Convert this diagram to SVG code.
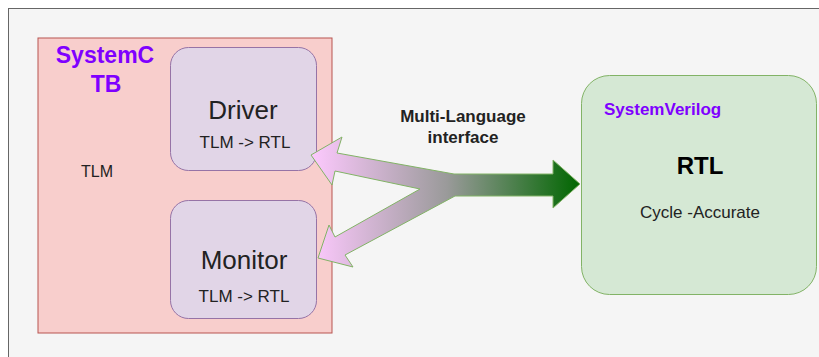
<svg xmlns="http://www.w3.org/2000/svg" width="819" height="357" viewBox="0 0 819 357">
  <defs>
    <linearGradient id="busFill" gradientUnits="userSpaceOnUse" x1="314" y1="0" x2="580" y2="0">
      <stop offset="0" stop-color="#fbc8fc"/>
      <stop offset="0.5" stop-color="#9a9a9a"/>
      <stop offset="1" stop-color="#006600"/>
    </linearGradient>
    <style>
      text { font-family: "Liberation Sans", Arial, sans-serif; text-anchor: middle; }
      .title { font-weight: bold; fill: #7f00ff; }
      .label { fill: #222222; }
      .block { fill: #e1d5e7; stroke: #9673a6; stroke-width: 1; }
    </style>
  </defs>

  <rect x="0" y="0" width="819" height="357" fill="#ffffff"/>
  <!-- canvas panel -->
  <rect x="8.5" y="8.5" width="830" height="360" fill="#f5f5f5" stroke="#666666" stroke-width="1"/>

  <!-- SystemC testbench container -->
  <g id="systemc-tb">
    <rect x="38" y="38" width="294" height="295" fill="#f8cecc" stroke="#b85450" stroke-width="1"/>
    <text class="title" x="105" y="63" font-size="23">SystemC</text>
    <text class="title" x="106" y="92" font-size="23">TB</text>
    <text class="label" x="97" y="177" font-size="16">TLM</text>
  </g>

  <g id="driver">
    <rect class="block" x="170.5" y="47.5" width="146" height="123" rx="18"/>
    <text class="label" x="243" y="119" font-size="26">Driver</text>
    <text class="label" x="245" y="148" font-size="17">TLM -&gt; RTL</text>
  </g>

  <g id="monitor">
    <rect class="block" x="170.5" y="200.5" width="146" height="118" rx="18"/>
    <text class="label" x="244" y="269" font-size="26">Monitor</text>
    <text class="label" x="244" y="302" font-size="17">TLM -&gt; RTL</text>
  </g>

  <g id="systemverilog">
    <rect x="581.5" y="75.5" width="235" height="219" rx="28" fill="#d5e8d4" stroke="#82b366" stroke-width="1"/>
    <text class="title" x="604" y="115" font-size="17" style="text-anchor:start">SystemVerilog</text>
    <text x="700" y="174" font-size="24" font-weight="bold" fill="#000000">RTL</text>
    <text class="label" x="700" y="218" font-size="17">Cycle -Accurate</text>
  </g>

  <!-- multi-language bus between the testbench and the RTL -->
  <g id="connectors">
    <polygon fill="url(#busFill)" stroke="#82b366" stroke-width="1" stroke-linejoin="miter"
      points="311,155 342,137 337,153 454,174 553,174 553,160 580,184 553,208 553,196 455,196 345,255 353,267 318,258 329,225 335,237 420,189 335,171 332,185"/>
    <text x="463" y="122" font-size="17" font-weight="bold" fill="#222222">Multi-Language</text>
    <text x="463" y="143" font-size="17" font-weight="bold" fill="#222222">interface</text>
  </g>
</svg>
